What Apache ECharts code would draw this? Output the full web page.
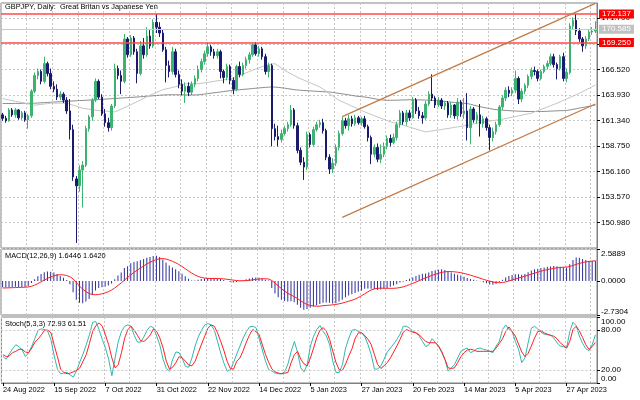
<!DOCTYPE html>
<html>
<head>
<meta charset="utf-8">
<script src="https://cdn.jsdelivr.net/npm/echarts@6/dist/echarts.min.js"></script>
<style>html,body{margin:0;padding:0;background:#fff}#c{width:640px;height:400px}</style>
</head>
<body>
<div id="c"></div>
<script>
// ---------- DATA ----------
const titleText = 'GBPJPY, Daily:  Great Britan vs Japanese Yen';
const macdTitle = 'MACD(12,26,9) 1.6446 1.6420';
const stochTitle = 'Stoch(5,3,3) 72.93 61.51';
const firstDay = [2022, 7, 24]; // 24 Aug 2022, weekdays only
const barCount = 186;
const monthNames = ['Jan','Feb','Mar','Apr','May','Jun','Jul','Aug','Sep','Oct','Nov','Dec'];

// [open, close, low, high]
const ohlc = [
[161.9,161.55,161.3,162.1],[161.55,161.3,161.1,161.8],[161.3,162.4,161.2,162.6],[162.4,161.9,161.7,162.6],[161.9,162.4,161.6,162.6],
[162.4,161.6,161.4,162.5],[161.6,162.1,161.4,162.3],[162.1,161.4,161.2,162.3],[161.4,161.8,160.5,162.0],[161.8,164.3,161.6,164.5],
[164.3,165.9,164.1,166.2],[165.9,166.3,165.5,166.6],[166.3,165.3,165.0,166.5],[165.3,167.1,165.1,167.8],[167.1,166.1,165.8,167.3],
[166.1,164.8,164.5,166.6],[164.8,164.5,164.2,165.3],[164.5,163.7,163.4,165.0],[163.7,164.0,163.4,164.3],[164.0,163.4,163.1,164.2],
[163.4,162.3,162.0,163.7],[162.3,160.4,159.4,163.5],[160.4,155.6,155.2,160.9],[155.4,154.7,148.9,155.7],[154.7,156.3,154.1,156.8],
[156.3,156.8,152.5,157.2],[156.8,160.5,156.6,160.8],[160.5,161.7,160.2,161.9],[161.7,163.4,161.3,163.6],[163.4,165.3,163.2,165.6],
[165.3,163.7,163.5,165.5],[163.7,162.0,161.8,164.0],[162.0,161.1,160.7,162.5],[161.1,160.6,160.2,161.6],[160.6,162.8,160.3,163.0],
[162.8,166.6,162.6,167.1],[166.6,165.9,165.5,166.9],[165.9,165.3,164.0,166.4],[165.3,169.6,165.1,170.1],[169.6,168.0,167.7,169.8],
[168.0,169.7,167.8,170.0],[169.7,168.3,168.0,169.9],[168.3,166.1,165.1,168.6],[166.1,168.9,165.9,169.4],[168.9,168.0,167.6,169.7],
[168.0,169.9,167.8,170.8],[169.9,168.9,168.6,170.5],[168.9,171.3,168.7,171.6],[171.3,170.8,170.2,172.14],[170.8,170.2,169.8,171.3],
[170.2,168.5,168.3,170.6],[168.5,166.9,165.2,168.8],[166.9,166.3,165.7,167.4],[166.3,168.3,166.0,168.8],[168.3,166.0,165.7,168.6],
[166.0,165.0,164.6,166.4],[165.0,164.3,163.9,165.5],[164.3,164.8,163.1,165.2],[164.8,164.2,163.8,165.2],[164.2,165.0,163.9,165.3],
[165.0,165.6,164.7,165.9],[165.6,166.5,165.3,166.9],[166.5,167.3,166.2,167.6],[167.3,168.1,167.0,168.4],[168.1,168.8,167.8,169.3],
[168.8,168.3,167.9,169.0],[168.3,167.9,167.6,168.6],[167.9,168.3,167.6,168.6],[168.3,166.3,165.6,168.5],[166.3,165.7,165.1,166.5],
[165.7,166.8,165.4,167.1],[166.8,165.4,165.0,167.0],[165.4,164.5,164.0,165.7],[164.5,166.8,164.3,167.0],[166.8,166.0,165.7,167.3],
[166.0,166.9,165.8,167.2],[166.9,167.5,166.6,167.8],[167.5,168.0,167.1,168.3],[168.0,169.0,167.8,169.2],[169.0,168.1,167.9,169.3],
[168.1,168.6,167.8,168.9],[168.6,167.8,167.5,168.8],[167.8,166.3,166.0,168.1],[166.3,166.9,165.7,167.2],[166.9,160.5,158.7,167.1],
[160.5,159.7,159.3,161.0],[159.7,159.4,158.7,160.8],[159.4,160.0,159.1,160.4],[160.0,160.5,159.8,160.8],[160.5,160.9,160.2,161.2],
[160.9,162.4,160.7,162.9],[162.4,160.8,160.5,162.6],[160.8,158.3,158.0,161.1],[158.3,157.1,156.8,158.6],[157.1,156.6,155.3,157.6],
[156.6,159.9,156.3,160.2],[159.9,158.9,158.6,160.1],[158.9,160.4,158.7,160.7],[160.4,160.9,160.2,161.2],[160.9,161.1,160.6,161.4],
[161.1,160.3,160.0,161.5],[160.3,157.6,157.3,160.5],[157.6,156.4,155.9,157.9],[156.4,157.0,156.0,157.5],[157.0,158.6,156.7,158.9],
[158.6,160.0,158.3,160.3],[160.0,161.3,159.8,161.7],[161.3,160.8,160.5,161.6],[160.8,161.5,160.3,161.9],[161.5,161.0,160.7,161.8],
[161.0,161.6,160.8,161.9],[161.6,161.1,160.9,161.8],[161.1,161.5,160.8,161.7],[161.5,160.7,160.5,161.8],[160.7,159.6,159.2,160.9],
[159.6,157.9,156.9,159.8],[157.9,158.6,157.6,158.9],[158.6,157.4,157.1,159.0],[157.4,157.9,157.0,158.9],[157.9,158.7,157.6,159.1],
[158.7,159.5,158.4,159.8],[159.5,159.1,158.7,159.9],[159.1,159.6,158.9,160.0],[159.6,160.9,159.3,161.2],[160.9,162.1,160.6,162.4],
[162.1,161.2,160.9,162.3],[161.2,162.1,160.8,162.4],[162.1,161.6,161.3,162.4],[161.6,163.4,161.5,163.7],[163.4,162.3,162.0,163.6],
[162.3,161.8,161.5,162.7],[161.8,161.6,161.0,162.2],[161.6,163.0,161.4,163.3],[163.0,164.0,162.8,164.3],[164.0,163.6,163.3,166.0],
[163.6,162.9,162.6,163.8],[162.9,163.4,162.7,163.7],[163.4,162.8,162.5,163.6],[162.8,163.1,162.4,163.3],[163.1,161.9,161.6,163.3],
[161.9,162.9,161.6,163.2],[162.9,161.8,161.5,163.0],[161.8,163.2,161.4,163.6],[163.2,162.0,161.7,163.4],[162.0,162.3,161.5,163.6],
[162.3,160.6,159.3,164.1],[160.6,162.5,158.9,162.8],[162.5,161.4,161.1,162.7],[161.4,161.9,161.0,162.2],[161.9,161.0,159.7,163.0],
[161.0,161.5,160.6,161.8],[161.5,160.6,160.3,161.7],[160.6,159.6,158.3,160.9],[159.6,160.2,159.2,160.6],[160.2,160.9,159.9,161.2],
[160.9,162.7,160.7,162.9],[162.7,163.6,162.4,163.9],[163.6,164.4,163.3,164.7],[164.4,164.1,163.7,164.8],[164.1,164.4,163.8,164.7],
[164.4,165.6,164.1,166.4],[165.6,163.5,163.0,165.8],[163.5,164.3,163.2,164.6],[164.3,164.9,164.0,165.1],[164.9,165.8,164.6,166.0],
[165.8,166.4,165.5,166.7],[166.4,166.3,165.9,166.8],[166.3,165.6,165.3,166.5],[165.6,166.3,165.4,166.5],[166.3,166.8,166.1,167.0],
[166.8,167.1,166.5,167.4],[167.1,167.8,166.9,168.1],[167.8,167.0,166.7,168.1],[167.0,166.6,165.5,167.2],[166.6,167.8,166.4,168.0],
[167.8,165.6,165.3,168.2],[165.6,166.2,165.2,166.6],[166.2,170.9,166.0,171.2],[170.9,171.5,170.6,171.8],[171.5,170.4,170.0,172.14],
[170.4,169.6,169.3,170.7],[169.6,168.9,168.3,169.8],[168.9,169.6,168.6,169.9],[169.6,170.3,169.4,170.6],[170.3,170.4,170.0,170.8],
[170.4,170.585,170.2,171.4]
];

const maSlow = [
163.05,163.05,163.05,163.06,163.06,163.06,163.07,163.07,163.07,163.08,
163.08,163.10,163.12,163.14,163.16,163.18,163.20,163.22,163.24,163.26,
163.28,163.30,163.31,163.33,163.35,163.36,163.38,163.40,163.42,163.44,
163.46,163.48,163.50,163.52,163.54,163.56,163.58,163.61,163.63,163.65,
163.67,163.69,163.71,163.74,163.76,163.79,163.81,163.84,163.86,163.89,
163.91,163.93,163.94,163.94,163.94,163.94,163.93,163.93,163.92,163.92,
163.92,163.93,163.97,164.01,164.05,164.10,164.14,164.18,164.22,164.27,
164.31,164.35,164.39,164.42,164.45,164.48,164.51,164.54,164.57,164.60,
164.63,164.66,164.69,164.71,164.73,164.72,164.69,164.65,164.61,164.56,
164.51,164.46,164.42,164.39,164.37,164.35,164.33,164.31,164.29,164.27,
164.25,164.23,164.22,164.18,164.13,164.08,164.03,163.98,163.93,163.87,
163.82,163.77,163.74,163.72,163.66,163.60,163.54,163.48,163.44,163.40,
163.38,163.38,163.38,163.39,163.40,163.41,163.42,163.43,163.43,163.43,
163.42,163.41,163.40,163.39,163.38,163.35,163.32,163.29,163.26,163.22,
163.19,163.16,163.13,163.10,163.07,163.05,162.97,162.89,162.81,162.73,
162.66,162.60,162.54,162.48,162.43,162.40,162.37,162.35,162.33,162.31,
162.29,162.27,162.26,162.25,162.24,162.24,162.24,162.24,162.25,162.25,
162.26,162.28,162.29,162.31,162.32,162.33,162.35,162.40,162.46,162.52,
162.59,162.65,162.71,162.77,162.83,162.90
];

const maFast = [
163.55,163.48,163.41,163.34,163.27,163.21,163.14,163.08,163.01,162.95,
162.88,162.92,162.96,163.00,163.04,163.08,163.09,163.09,163.09,163.08,
163.08,162.98,162.88,162.78,162.67,162.57,162.52,162.47,162.42,162.37,
162.34,162.32,162.29,162.26,162.23,162.20,162.34,162.49,162.63,162.78,
162.93,163.08,163.24,163.40,163.57,163.73,163.89,164.03,164.17,164.31,
164.45,164.53,164.60,164.68,164.77,164.85,164.93,165.01,165.10,165.08,
165.06,165.05,165.10,165.15,165.20,165.25,165.30,165.35,165.40,165.45,
165.51,165.56,165.61,165.75,165.89,166.03,166.16,166.30,166.42,166.55,
166.67,166.80,166.92,166.98,167.04,167.10,166.88,166.65,166.42,166.24,
166.07,165.89,165.71,165.57,165.43,165.29,165.15,165.01,164.87,164.73,
164.50,164.28,164.05,163.83,163.60,163.38,163.23,163.09,162.94,162.79,
162.64,162.50,162.35,162.20,162.07,161.95,161.82,161.69,161.57,161.44,
161.32,161.19,161.11,161.02,160.94,160.85,160.75,160.66,160.56,160.46,
160.37,160.27,160.17,160.22,160.27,160.32,160.37,160.42,160.47,160.52,
160.57,160.63,160.68,160.74,160.79,160.85,160.92,160.99,161.05,161.12,
161.19,161.23,161.28,161.32,161.37,161.41,161.46,161.53,161.59,161.66,
161.73,161.80,161.87,161.93,162.00,162.07,162.20,162.32,162.45,162.57,
162.70,162.83,162.95,163.08,163.22,163.37,163.51,163.66,163.80,163.95,
164.09,164.26,164.43,164.59,164.76,164.93
];

const macdMain = [
-0.50,-0.52,-0.50,-0.48,-0.46,-0.47,-0.48,-0.45,-0.40,-0.15,
0.15,0.40,0.58,0.72,0.78,0.76,0.70,0.58,0.42,0.28,
0.10,-0.25,-0.90,-1.50,-1.75,-1.78,-1.65,-1.45,-1.10,-0.75,
-0.55,-0.50,-0.45,-0.35,-0.20,0.15,0.45,0.70,1.05,1.20,
1.45,1.55,1.60,1.68,1.78,1.88,1.95,2.02,2.05,1.95,
1.75,1.50,1.25,1.10,0.95,0.80,0.60,0.40,0.20,0.05,
0.05,0.12,0.18,0.22,0.25,0.26,0.25,0.22,0.18,0.10,
0.00,-0.08,-0.12,-0.08,-0.02,0.05,0.15,0.22,0.28,0.30,
0.28,0.22,0.12,0.05,-0.55,-1.00,-1.30,-1.50,-1.60,-1.65,
-1.62,-1.70,-1.90,-2.15,-2.30,-2.25,-2.15,-2.05,-1.95,-1.85,
-1.75,-1.72,-1.75,-1.80,-1.78,-1.65,-1.50,-1.30,-1.15,-1.05,
-0.95,-0.85,-0.75,-0.62,-0.60,-0.62,-0.65,-0.70,-0.68,-0.62,
-0.55,-0.45,-0.35,-0.25,-0.12,-0.05,0.10,0.20,0.30,0.42,
0.52,0.60,0.62,0.70,0.82,0.88,0.92,0.95,0.90,0.80,
0.70,0.60,0.52,0.45,0.35,0.25,0.18,0.12,0.05,-0.02,
-0.10,-0.18,-0.28,-0.30,-0.22,-0.08,0.12,0.30,0.42,0.50,
0.55,0.55,0.52,0.58,0.72,0.85,0.95,1.00,1.05,1.10,
1.15,1.18,1.22,1.20,1.15,1.12,1.10,1.35,1.70,1.90,
1.88,1.78,1.70,1.62,1.62,1.6446
];

const macdSignal = [
-0.55,-0.55,-0.54,-0.53,-0.52,-0.51,-0.50,-0.49,-0.47,-0.42,
-0.32,-0.20,-0.06,0.08,0.22,0.34,0.43,0.49,0.52,0.50,
0.45,0.35,0.18,-0.10,-0.40,-0.65,-0.85,-1.00,-1.08,-1.10,
-1.08,-1.02,-0.95,-0.85,-0.72,-0.55,-0.35,-0.15,0.08,0.30,
0.50,0.70,0.88,1.05,1.22,1.38,1.52,1.64,1.74,1.80,
1.82,1.78,1.70,1.60,1.48,1.34,1.18,1.00,0.82,0.65,
0.50,0.38,0.30,0.25,0.22,0.21,0.21,0.21,0.20,0.18,
0.15,0.12,0.08,0.05,0.03,0.03,0.04,0.07,0.10,0.14,
0.17,0.19,0.19,0.17,0.05,-0.15,-0.38,-0.60,-0.80,-0.98,
-1.12,-1.25,-1.40,-1.58,-1.75,-1.88,-1.96,-2.00,-2.02,-2.02,
-1.98,-1.96,-1.94,-1.91,-1.88,-1.83,-1.77,-1.70,-1.62,-1.55,
-1.45,-1.32,-1.18,-1.02,-0.86,-0.72,-0.62,-0.58,-0.57,-0.57,
-0.58,-0.58,-0.58,-0.56,-0.52,-0.46,-0.38,-0.28,-0.18,-0.08,
0.04,0.15,0.26,0.36,0.46,0.55,0.63,0.70,0.75,0.77,
0.77,0.75,0.72,0.68,0.62,0.55,0.48,0.40,0.32,0.24,
0.15,0.07,0.00,-0.07,-0.12,-0.13,-0.11,-0.06,0.01,0.09,
0.17,0.25,0.32,0.40,0.48,0.56,0.64,0.72,0.80,0.87,
0.93,0.98,1.03,1.07,1.10,1.12,1.14,1.18,1.26,1.35,
1.43,1.50,1.55,1.59,1.62,1.642
];

const stochK = [
40,36,44,52,58,55,50,40,46,56,
68,80,82,81,78,65,41,21,14,15,
16,12,9,19,32,44,58,73,92,93,
81,66,53,36,11,38,63,78,86,88,
86,72,62,62,70,80,86,84,71,57,
36,22,18,36,47,46,37,25,24,38,
56,70,80,88,90,88,80,63,45,30,
18,20,31,44,56,68,78,85,86,84,
67,50,33,20,18,15,14,14,17,29,
48,63,46,23,17,28,56,71,81,87,
78,71,58,33,16,16,28,53,68,80,
81,78,76,70,58,43,21,21,26,36,
47,53,59,66,74,86,86,83,78,76,
71,63,55,58,67,62,56,46,36,18,
23,28,38,48,51,53,46,48,52,53,
51,50,48,46,56,63,81,88,81,78,
63,51,31,38,61,83,86,82,77,74,
73,73,68,61,56,55,53,78,92,87,
71,60,52,49,58,72.93
];

const stochD = [
43,40,41,46,48,51,51,47,46,53,
62,67,73,80,80,76,57,40,21,16,
14,15,17,19,23,33,43,60,78,87,
91,86,73,58,38,23,28,46,68,81,
86,80,72,64,63,67,73,82,78,68,
53,33,21,24,31,40,38,33,27,26,
33,46,59,71,83,88,86,76,63,49,
33,22,21,33,38,49,62,73,81,78,
73,58,43,31,21,17,15,14,15,16,
31,43,48,36,29,26,38,53,69,80,
84,78,66,48,31,20,19,29,41,52,
68,76,76,72,66,58,43,28,22,26,
31,38,47,56,66,77,81,79,77,76,
73,68,63,61,61,61,56,48,36,23,
22,23,31,40,46,50,51,50,48,48,
48,48,48,48,53,60,67,78,85,78,
71,59,47,40,45,56,68,78,79,76,
74,72,71,67,61,57,53,63,81,86,
79,69,58,51,55,61.51
];

const priceLevels = [172.137, 169.250];
const bidPrice = 170.585;
const channelUpper = [[106, 161.72], [185, 173.21]];
const channelLower = [[106, 151.50], [185, 163.00]];
const priceAxis = {min: 148.39, max: 173.25, step: 2.59};
const macdAxis = {min: -2.7304, max: 2.5889};
const stochLevels = [20, 80];

// ---------- BUILD ----------
const categories = [];
(function () {
  const d = new Date(Date.UTC(firstDay[0], firstDay[1], firstDay[2]));
  while (categories.length < barCount) {
    const w = d.getUTCDay();
    if (w !== 0 && w !== 6) {
      categories.push(d.getUTCDate() + ' ' + monthNames[d.getUTCMonth()] + ' ' + d.getUTCFullYear());
    }
    d.setUTCDate(d.getUTCDate() + 1);
  }
})();

function hasFont(name) {
  const c = document.createElement('canvas').getContext('2d');
  const s = 'abcdefghijklmnop0123456789';
  c.font = '20px monospace';
  const a = c.measureText(s).width;
  c.font = '20px "' + name + '", monospace';
  return Math.abs(c.measureText(s).width - a) > 0.5;
}
const NARROW = hasFont('Liberation Sans Narrow');
const FONT = NARROW ? 'Liberation Sans Narrow' : 'Liberation Sans';
const FS = NARROW ? 9 : 7.4;
const NUMFS = NARROW ? 9 : 8;

const BULL = '#3cb371', BEAR = '#1a1a6e';
const GRIDC = '#c8c8c8', FRAME = '#808080';
const lab = {fontSize: FS, color: '#000', fontFamily: FONT};
const numLab = {fontSize: NUMFS, color: '#000', fontFamily: FONT};

function xAxisFor(idx, bottom) {
  return {
    type: 'category', gridIndex: idx, data: categories, boundaryGap: true,
    axisLine: {show: bottom, lineStyle: {color: FRAME}},
    axisTick: {show: bottom, interval: 15, alignWithLabel: true, length: 3, lineStyle: {color: '#000'}},
    axisLabel: Object.assign({show: bottom, interval: 15, align: 'left', margin: 3}, lab),
    splitLine: {show: true, interval: 7, lineStyle: {color: GRIDC, type: [2, 2], width: 1}}
  };
}

const near = (a, b) => Math.abs(a - b) < 1e-6;
const ttl = (text, top) => ({text: text, left: 5, top: top, padding: 0, textStyle: Object.assign({fontWeight: 'normal'}, lab)});

const option = {
  animation: false,
  backgroundColor: '#fff',
  textStyle: {fontFamily: FONT},
  title: [ttl(titleText, 3), ttl(macdTitle, 252), ttl(stochTitle, 320)],
  grid: [
    {left: 1, right: 43, top: 3, height: 245, show: true, borderColor: FRAME, borderWidth: 1, backgroundColor: '#fff'},
    {left: 1, right: 43, top: 249, height: 66, show: true, borderColor: FRAME, borderWidth: 1, backgroundColor: '#fff'},
    {left: 1, right: 43, top: 317, height: 66, show: true, borderColor: FRAME, borderWidth: 1, backgroundColor: '#fff'}
  ],
  xAxis: [xAxisFor(0, false), xAxisFor(1, false), xAxisFor(2, true)],
  yAxis: [
    {
      type: 'value', gridIndex: 0, position: 'right', scale: true,
      min: priceAxis.min, max: priceAxis.max, interval: priceAxis.step,
      axisLine: {show: true, lineStyle: {color: FRAME}},
      axisTick: {show: true, length: 3, lineStyle: {color: '#000'}},
      axisLabel: Object.assign({showMinLabel: false, showMaxLabel: false, margin: 4, formatter: v => v.toFixed(3)}, numLab),
      splitLine: {show: true, lineStyle: {color: GRIDC, type: [2, 2], width: 1}}
    },
    {
      type: 'value', gridIndex: 1, position: 'right',
      min: macdAxis.min, max: macdAxis.max, interval: -macdAxis.min,
      axisLine: {show: true, lineStyle: {color: FRAME}},
      axisTick: {show: true, length: 3, lineStyle: {color: '#000'}},
      axisLabel: Object.assign({margin: 4,
        formatter: v => near(v, macdAxis.max) ? '{t|' + v.toFixed(4) + '}' : near(v, macdAxis.min) ? '{b|' + v.toFixed(4) + '}' : near(v, 0) ? '0.0000' : '',
        rich: {t: Object.assign({padding: [10, 0, 0, 0]}, numLab), b: Object.assign({padding: [0, 0, 7, 0]}, numLab)}
      }, numLab),
      splitLine: {show: false}
    },
    {
      type: 'value', gridIndex: 2, position: 'right', min: 0, max: 100, interval: 20,
      axisLine: {show: true, lineStyle: {color: FRAME}},
      axisTick: {show: true, length: 3, customValues: [0, 20, 80, 100], lineStyle: {color: '#000'}},
      axisLabel: Object.assign({margin: 4,
        formatter: v => v === 100 ? '{t|100.00}' : v === 0 ? '{b|0.00}' : (v === 20 || v === 80) ? v.toFixed(2) : '',
        rich: {t: Object.assign({padding: [9, 0, 0, 0]}, numLab), b: Object.assign({padding: [0, 0, 8, 0]}, numLab)}
      }, numLab),
      splitLine: {show: false}
    }
  ],
  series: [
    {
      type: 'line', xAxisIndex: 0, yAxisIndex: 0, data: maSlow, showSymbol: false, silent: true,
      lineStyle: {color: '#8c8c8c', width: 1}, z: 1
    },
    {
      type: 'line', xAxisIndex: 0, yAxisIndex: 0, data: maFast, showSymbol: false, silent: true,
      lineStyle: {color: '#c4c4c4', width: 1}, z: 1
    },
    {
      type: 'candlestick', xAxisIndex: 0, yAxisIndex: 0, data: ohlc, barWidth: 2, z: 3,
      itemStyle: {color: BULL, color0: BEAR, borderColor: BULL, borderColor0: BEAR, borderWidth: 1},
      markLine: {
        silent: true, symbol: ['none', 'none'], animation: false, z: 4,
        data: [
          {yAxis: priceLevels[0], lineStyle: {color: '#ff4a4a', width: 1.5, type: 'solid'},
           label: Object.assign({show: true, position: 'end', distance: 2, formatter: priceLevels[0].toFixed(3), backgroundColor: '#ff0000', padding: [1, 3, 0, 3]}, numLab, {color: '#fff'})},
          {yAxis: priceLevels[1], lineStyle: {color: '#ff4a4a', width: 1.5, type: 'solid'},
           label: Object.assign({show: true, position: 'end', distance: 2, formatter: priceLevels[1].toFixed(3), backgroundColor: '#ff0000', padding: [1, 3, 0, 3]}, numLab, {color: '#fff'})},
          {yAxis: bidPrice, lineStyle: {color: '#c8c8c8', width: 1, type: 'solid'},
           label: Object.assign({show: true, position: 'end', distance: 2, formatter: bidPrice.toFixed(3), backgroundColor: '#c0c0c0', padding: [1, 3, 0, 3]}, numLab, {color: '#fff'})},
          [{coord: channelUpper[0]}, {coord: channelUpper[1], lineStyle: {color: '#c27a45', width: 1.2, type: 'solid'}, label: {show: false}}],
          [{coord: channelLower[0]}, {coord: channelLower[1], lineStyle: {color: '#c27a45', width: 1.2, type: 'solid'}, label: {show: false}}]
        ]
      }
    },
    {
      type: 'bar', xAxisIndex: 1, yAxisIndex: 1, data: macdMain, barWidth: 1, silent: true,
      itemStyle: {color: '#2e2e9a'}
    },
    {
      type: 'line', xAxisIndex: 1, yAxisIndex: 1, data: macdSignal, showSymbol: false, silent: true,
      lineStyle: {color: '#ff2020', width: 1}
    },
    {
      type: 'line', xAxisIndex: 2, yAxisIndex: 2, data: stochK, showSymbol: false, silent: true,
      lineStyle: {color: '#30b8b0', width: 1}
    },
    {
      type: 'line', xAxisIndex: 2, yAxisIndex: 2, data: stochD, showSymbol: false, silent: true,
      lineStyle: {color: '#ff2020', width: 1},
      markLine: {
        silent: true, symbol: ['none', 'none'], animation: false, label: {show: false},
        lineStyle: {color: GRIDC, type: [2, 2], width: 1},
        data: stochLevels.map(v => ({yAxis: v}))
      }
    }
  ]
};

const chart = echarts.init(document.getElementById('c'), null, {renderer: 'canvas', width: 640, height: 400});
chart.setOption(option);
</script>
</body>
</html>
